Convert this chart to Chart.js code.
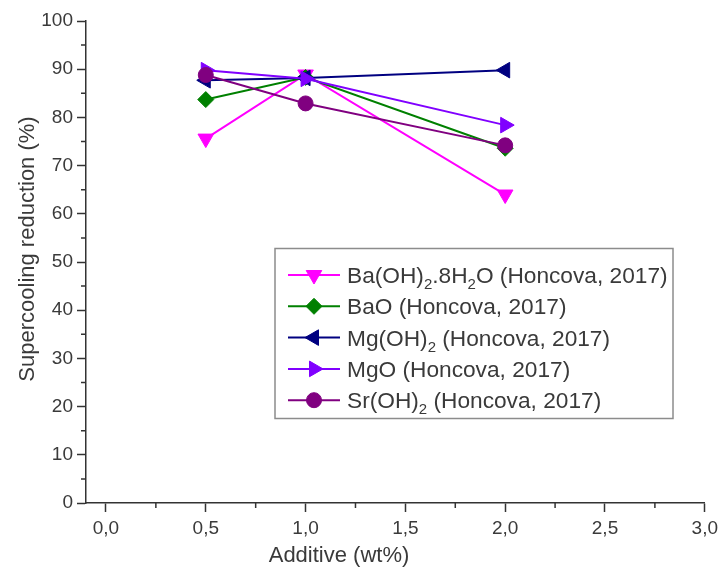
<!DOCTYPE html>
<html>
<head>
<meta charset="utf-8">
<script src="https://cdn.jsdelivr.net/npm/chart.js@4.4.0/dist/chart.umd.min.js"></script>
<style>
  html, body { margin: 0; padding: 0; background: #fff; }
</style>
</head>
<body>
<canvas id="myChart" width="723" height="574"></canvas>
<script>
// data
const additive = [0.5, 1.0, 2.0];
const baOH2 = [75.6, 88.9, 64.0];
const baO = [83.7, 88.3, 73.6];
const mgOH2 = [87.7, 88.2, 89.8];
const mgO = [89.8, 88.0, 78.4];
const srOH2 = [88.8, 82.9, 74.2];

// legend names ("_2" = subscript 2)
const seriesNames = [
    'Ba(OH)_2.8H_2O (Honcova, 2017)',
    'BaO (Honcova, 2017)',
    'Mg(OH)_2 (Honcova, 2017)',
    'MgO (Honcova, 2017)',
    'Sr(OH)_2 (Honcova, 2017)'
];

// ticks
const xTicks = [0, 0.5, 1.0, 1.5, 2.0, 2.5, 3.0];
const xMinorTicks = [0.25, 0.75, 1.25, 1.75, 2.25, 2.75];
const yTicks = [0, 10, 20, 30, 40, 50, 60, 70, 80, 90, 100];
const yMinorTicks = [5, 15, 25, 35, 45, 55, 65, 75, 85, 95];

const FONT = "'Liberation Sans', Arial, sans-serif";
const AXIS_COLOR = '#333333';
const TEXT_COLOR = '#3a3a3a';

function makeSet(i, values, color, pointStyle, rotation, radius) {
    return {
        label: seriesNames[i],
        data: additive.map((x, k) => ({ x: x, y: values[k] })),
        borderColor: color,
        backgroundColor: color,
        pointBackgroundColor: color,
        pointBorderColor: color,
        pointBorderWidth: 1,
        pointStyle: pointStyle,
        rotation: rotation,
        pointRadius: radius,
        borderWidth: 2,
        tension: 0,
        // later series on top, like the original plot
        order: seriesNames.length - i
    };
}

// draw text with "_x" subscripts
function drawRich(ctx, text, x, baseline, size) {
    const parts = [];
    let buf = '';
    for (let i = 0; i < text.length; i++) {
        if (text[i] === '_' && i + 1 < text.length) {
            if (buf) parts.push({ t: buf, sub: false });
            buf = '';
            parts.push({ t: text[i + 1], sub: true });
            i++;
        } else {
            buf += text[i];
        }
    }
    if (buf) parts.push({ t: buf, sub: false });

    ctx.textAlign = 'left';
    ctx.textBaseline = 'alphabetic';
    parts.forEach(p => {
        if (p.sub) {
            ctx.font = Math.round(size * 0.65) + 'px ' + FONT;
            ctx.fillText(p.t, x, baseline + size * 0.26);
        } else {
            ctx.font = size + 'px ' + FONT;
            ctx.fillText(p.t, x, baseline);
        }
        x += ctx.measureText(p.t).width;
    });
}

// minor ticks (shorter, no labels)
const minorTicks = {
    id: 'minorTicks',
    afterDraw(chart) {
        const ctx = chart.ctx;
        const xs = chart.scales.x, ys = chart.scales.y;
        const area = chart.chartArea;
        ctx.save();
        ctx.strokeStyle = AXIS_COLOR;
        ctx.lineWidth = 1.5;
        ctx.beginPath();
        xMinorTicks.forEach(v => {
            const px = xs.getPixelForValue(v);
            ctx.moveTo(px, area.bottom);
            ctx.lineTo(px, area.bottom + 5);
        });
        yMinorTicks.forEach(v => {
            const py = ys.getPixelForValue(v);
            ctx.moveTo(area.left, py);
            ctx.lineTo(area.left - 5, py);
        });
        ctx.stroke();
        ctx.restore();
    }
};

// axis titles at the positions used in the figure
const axisTitles = {
    id: 'axisTitles',
    afterDraw(chart) {
        const ctx = chart.ctx;
        ctx.save();
        ctx.fillStyle = TEXT_COLOR;
        ctx.font = '22px ' + FONT;
        ctx.textAlign = 'center';
        ctx.textBaseline = 'middle';
        ctx.fillText('Additive (wt%)', 339, 556);
        ctx.translate(28, 249);
        ctx.rotate(-Math.PI / 2);
        ctx.fillText('Supercooling reduction (%)', 0, 0);
        ctx.restore();
    }
};

// boxed legend inside the plot
const legendBox = {
    id: 'legendBox',
    afterDraw(chart) {
        const ctx = chart.ctx;
        ctx.save();
        ctx.strokeStyle = '#8c8c8c';
        ctx.lineWidth = 1.5;
        ctx.strokeRect(275, 248.5, 398, 170);
        chart.data.datasets.forEach((ds, i) => {
            const y = 275 + i * 31.3;
            ctx.strokeStyle = ds.borderColor;
            ctx.lineWidth = 2;
            ctx.beginPath();
            ctx.moveTo(288, y);
            ctx.lineTo(340, y);
            ctx.stroke();
            ctx.fillStyle = ds.pointBackgroundColor;
            ctx.lineWidth = 1;
            Chart.helpers.drawPoint(ctx, {
                pointStyle: ds.pointStyle,
                radius: ds.pointRadius,
                rotation: ds.rotation,
                borderWidth: 1
            }, 314, y);
            ctx.fillStyle = TEXT_COLOR;
            drawRich(ctx, ds.label, 347, y + 8, 22.7);
        });
        ctx.restore();
    }
};

const ctx = document.getElementById('myChart').getContext('2d');

window.myChart = new Chart(ctx, {
    type: 'line',
    data: {
        datasets: [
            makeSet(0, baOH2, '#ff00ff', 'triangle', 180, 9),
            makeSet(1, baO, '#008000', 'rectRot', 0, 8),
            makeSet(2, mgOH2, '#000080', 'triangle', 270, 9),
            makeSet(3, mgO, '#8000ff', 'triangle', 90, 9),
            makeSet(4, srOH2, '#800080', 'circle', 0, 7.5)
        ]
    },
    options: {
        responsive: false,
        animation: false,
        devicePixelRatio: 1,
        layout: {
            padding: { top: 21, right: 14, left: 0, bottom: 0 }
        },
        plugins: {
            legend: { display: false },
            tooltip: { enabled: false },
            title: { display: false }
        },
        scales: {
            x: {
                type: 'linear',
                min: -0.1,
                max: 3.0,
                afterBuildTicks: s => { s.ticks = xTicks.map(v => ({ value: v })); },
                afterFit: s => { s.height = 71; },
                grid: {
                    drawOnChartArea: false,
                    drawTicks: true,
                    tickLength: 9,
                    tickColor: AXIS_COLOR,
                    tickWidth: 1.5
                },
                border: { display: true, color: AXIS_COLOR, width: 1.5 },
                ticks: {
                    color: TEXT_COLOR,
                    font: { family: FONT, size: 19 },
                    padding: 5,
                    maxRotation: 0,
                    callback: v => v.toFixed(1).replace('.', ',')
                }
            },
            y: {
                type: 'linear',
                min: 0,
                max: 100,
                afterBuildTicks: s => { s.ticks = yTicks.map(v => ({ value: v })); },
                afterFit: s => { s.width = 86; },
                grid: {
                    drawOnChartArea: false,
                    drawTicks: true,
                    tickLength: 9,
                    tickColor: AXIS_COLOR,
                    tickWidth: 1.5
                },
                border: { display: true, color: AXIS_COLOR, width: 1.5 },
                ticks: {
                    color: TEXT_COLOR,
                    font: { family: FONT, size: 19 },
                    padding: 4,
                    callback: v => String(v)
                }
            }
        }
    },
    plugins: [minorTicks, axisTitles, legendBox]
});
</script>
</body>
</html>
